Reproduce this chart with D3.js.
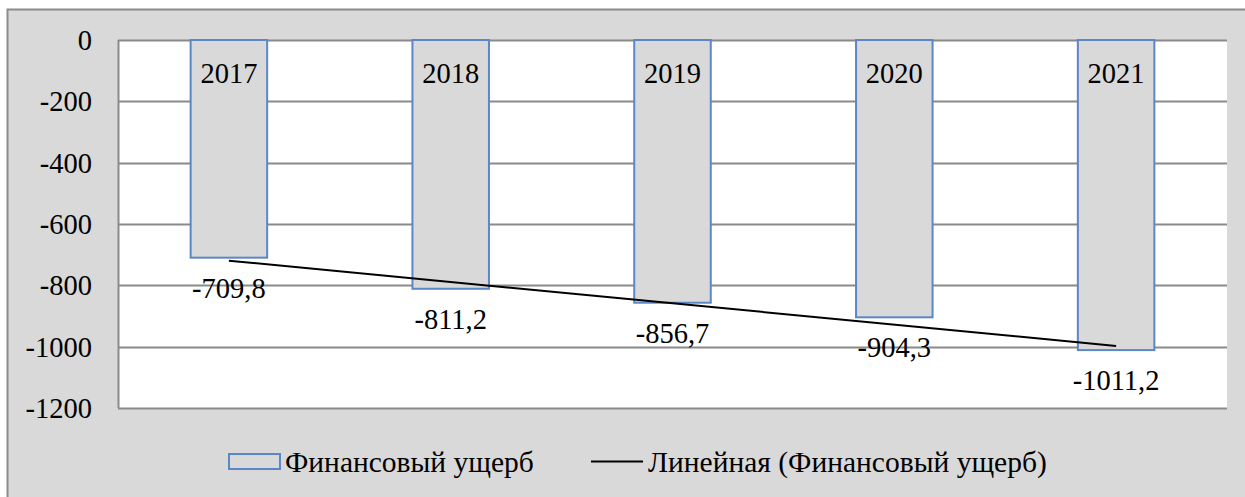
<!DOCTYPE html>
<meta charset="utf-8">
<html>
<head>
<script src="https://d3js.org/d3.v7.min.js"></script>
<style>
  body { margin: 0; background: #fff; }
  svg text { font-family: 'Liberation Serif' !important; }
</style>
</head>
<body>
<div id="chart"></div>
<script>
  // data
  var years = ["2017", "2018", "2019", "2020", "2021"];
  var damage = [-709.8, -811.2, -856.7, -904.3, -1011.2];
  var yTicks = [0, -200, -400, -600, -800, -1000, -1200];
  var seriesName = "Финансовый ущерб";
  var trendName = "Линейная (Финансовый ущерб)";

  var width = 1245, height = 497;
  var plot = { left: 118, right: 1227, top: 40, bottom: 408 };

  var svg = d3.select("#chart").append("svg")
    .attr("width", width)
    .attr("height", height)
    .attr("font-family", "Liberation Serif");

  // outer chart area
  svg.append("rect")
    .attr("x", 7.5).attr("y", 9.5)
    .attr("width", width + 10).attr("height", height + 10)
    .attr("fill", "#d9d9d9")
    .attr("stroke", "#8c8c8c")
    .attr("stroke-width", 2);

  var x = d3.scaleBand(years, [plot.left, plot.right]).paddingInner(0.655).paddingOuter(0.3275);
  var y = d3.scaleLinear([0, -1200], [plot.top, plot.bottom]);

  svg.append("rect")
    .attr("x", plot.left).attr("y", plot.top)
    .attr("width", plot.right - plot.left).attr("height", plot.bottom - plot.top)
    .attr("fill", "#fff");

  // gridlines
  svg.append("g")
    .selectAll("line")
    .data(yTicks)
    .join("line")
    .attr("x1", plot.left).attr("x2", plot.right)
    .attr("y1", d => Math.round(y(d)) + 0.5).attr("y2", d => Math.round(y(d)) + 0.5)
    .attr("stroke", "#8a8a8a")
    .attr("stroke-width", 2);

  svg.append("line")
    .attr("x1", plot.left + 0.5).attr("x2", plot.left + 0.5)
    .attr("y1", plot.top).attr("y2", plot.bottom)
    .attr("stroke", "#8a8a8a")
    .attr("stroke-width", 2);

  // y tick labels
  svg.append("g")
    .selectAll("text")
    .data(yTicks)
    .join("text")
    .attr("x", 92)
    .attr("y", d => y(d) + 10)
    .attr("text-anchor", "end")
    .attr("font-size", 28.5)
    .text(d => d);

  // bars
  svg.append("g")
    .selectAll("rect")
    .data(damage)
    .join("rect")
    .attr("x", (d, i) => x(years[i]))
    .attr("y", y(0))
    .attr("width", x.bandwidth())
    .attr("height", d => y(d) - y(0))
    .attr("fill", "#d9d9d9")
    .attr("stroke", "#5b87c9")
    .attr("stroke-width", 2);

  // category labels inside bars
  svg.append("g")
    .selectAll("text")
    .data(years)
    .join("text")
    .attr("x", d => x(d) + x.bandwidth() / 2)
    .attr("y", y(0) + 43)
    .attr("text-anchor", "middle")
    .attr("font-size", 28.5)
    .text(d => d);

  // trend line (least squares over category index)
  var xs = damage.map((d, i) => i + 1);
  var mx = d3.mean(xs), my = d3.mean(damage);
  var slope = d3.sum(xs, (v, i) => (v - mx) * (damage[i] - my)) / d3.sum(xs, v => (v - mx) * (v - mx));
  var icpt = my - slope * mx;
  var cx = i => x(years[i]) + x.bandwidth() / 2;
  svg.append("line")
    .attr("x1", cx(0)).attr("y1", y(icpt + slope * 1))
    .attr("x2", cx(years.length - 1)).attr("y2", y(icpt + slope * years.length))
    .attr("stroke", "#000")
    .attr("stroke-width", 2);

  // value labels
  svg.append("g")
    .selectAll("text")
    .data(damage)
    .join("text")
    .attr("x", (d, i) => cx(i))
    .attr("y", d => y(d) + 40)
    .attr("text-anchor", "middle")
    .attr("font-size", 28.5)
    .text(d => String(d).replace(".", ","));

  // legend
  var lg = svg.append("g");
  lg.append("rect")
    .attr("x", 229).attr("y", 454)
    .attr("width", 51).attr("height", 15)
    .attr("fill", "#d9d9d9")
    .attr("stroke", "#5b87c9")
    .attr("stroke-width", 2);
  lg.append("text")
    .attr("x", 285).attr("y", 472)
    .attr("font-size", 29.5)
    .text(seriesName);
  lg.append("line")
    .attr("x1", 591).attr("x2", 643)
    .attr("y1", 461.5).attr("y2", 461.5)
    .attr("stroke", "#000")
    .attr("stroke-width", 2);
  lg.append("text")
    .attr("x", 648).attr("y", 472)
    .attr("font-size", 29.5)
    .text(trendName);
</script>
</body>
</html>
